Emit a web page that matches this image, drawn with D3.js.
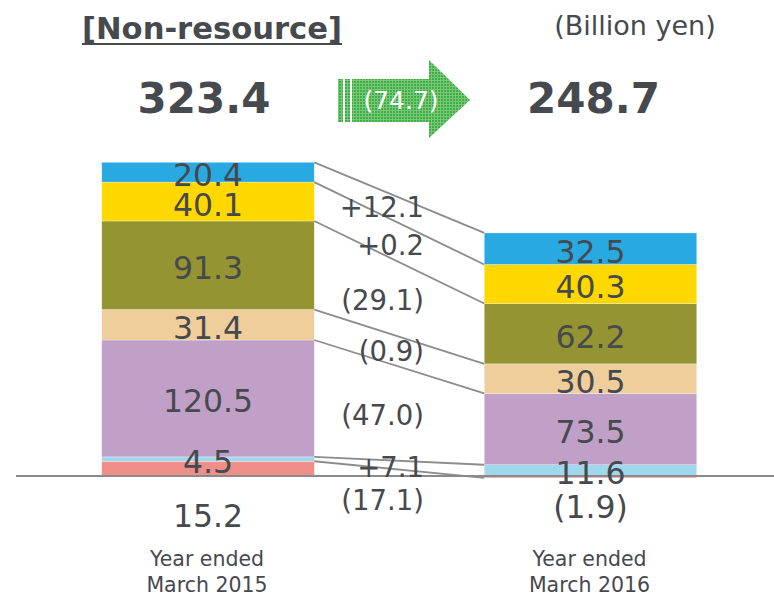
<!DOCTYPE html>
<html>
<head>
<meta charset="utf-8">
<script src="https://cdn.jsdelivr.net/npm/d3@7"></script>
<style>
  html, body { margin: 0; padding: 0; background: #fff; }
  svg { display: block; font-family: "DejaVu Sans", Verdana, sans-serif; }
</style>
</head>
<body>
<svg id="chart" width="774" height="598"></svg>
<script>
// ---------------- data ----------------
const title = "[Non-resource]";
const unitLabel = "(Billion yen)";
const categories = ["Year ended March 2015", "Year ended March 2016"];
// segment keys, listed from top of the bar to bottom
const segmentKeys = ["seg1", "seg2", "seg3", "seg4", "seg5", "seg6", "seg7"];
const segmentColors = ["#29A9E1", "#FFD800", "#959433", "#EFCE9B", "#C0A0C7", "#9DD8ED", "#F08E8A"];
const values2015 = [20.4, 40.1, 91.3, 31.4, 120.5, 4.5, 15.2];
const values2016 = [32.5, 40.3, 62.2, 30.5, 73.5, 11.6, -1.9];

// ---------------- helpers ----------------
const fmt = v => v < 0 ? "(" + d3.format(".1f")(-v) + ")" : d3.format(".1f")(v);
const fmtDelta = v => v < 0 ? "(" + d3.format(".1f")(-v) + ")" : "+" + d3.format(".1f")(v);
const textColor = "#46494E";

const rows = categories.map((c, i) => {
  const vals = i === 0 ? values2015 : values2016;
  const r = { category: c };
  segmentKeys.forEach((k, j) => r[k] = vals[j]);
  return r;
});
const totals = [d3.sum(values2015), d3.sum(values2016)];

const svg = d3.select("#chart");

// scales
const y = d3.scaleLinear().domain([0, 100]).range([476, 379]);
const x = d3.scalePoint().domain(categories).range([208, 590.5]);
const barW = 212.5;

// stack (bottom to top order => reversed keys)
const stackKeys = segmentKeys.slice().reverse();
const series = d3.stack().keys(stackKeys).offset(d3.stackOffsetDiverging)(rows);
const colorOf = d3.scaleOrdinal().domain(segmentKeys).range(segmentColors);

// ---------------- connector lines ----------------
const x1r = x(categories[0]) + barW / 2;
const x2l = x(categories[1]) - barW / 2;
const edgeOf = (s, i) => { const d = s[i]; const v = d.data[s.key]; return v < 0 ? d[0] : d[1]; };
const connectors = series.map(s => ({ key: s.key, a: edgeOf(s, 0), b: edgeOf(s, 1) }));

// ---------------- bars ----------------
const gBars = svg.append("g");
series.forEach(s => {
  gBars.selectAll(null).data(s).enter().append("rect")
    .attr("x", d => x(d.data.category) - barW / 2)
    .attr("width", barW)
    .attr("y", d => y(Math.max(d[0], d[1])))
    .attr("height", d => Math.abs(y(d[0]) - y(d[1])))
    .attr("fill", colorOf(s.key))
    .attr("stroke", "#ffffff")
    .attr("stroke-opacity", 0.5)
    .attr("stroke-width", 0.6);
});

svg.append("g").selectAll("line").data(connectors).enter().append("line")
  .attr("x1", x1r).attr("x2", x2l)
  .attr("y1", d => y(d.a)).attr("y2", d => y(d.b))
  .attr("stroke", "#8C8C8C").attr("stroke-width", 1.8);

// baseline
svg.append("line").attr("x1", 16).attr("x2", 774).attr("y1", y(0)).attr("y2", y(0))
  .attr("stroke", "#8A8A8A").attr("stroke-width", 2);

// ---------------- segment labels ----------------
const segFs = 31.5;
const belowOffset = [40, 29];
const gLab = svg.append("g").attr("fill", textColor).attr("font-size", segFs).attr("text-anchor", "middle");
series.forEach(s => {
  s.forEach((d, i) => {
    const v = d.data[s.key];
    let cy;
    if (s.key === segmentKeys[segmentKeys.length - 1]) {
      cy = y(Math.min(d[0], d[1])) + belowOffset[i];
    } else {
      cy = (y(d[0]) + y(d[1])) / 2 + 2.5;
    }
    gLab.append("text")
      .attr("x", x(d.data.category))
      .attr("y", cy + 0.365 * segFs)
      .text(fmt(v));
  });
});

// ---------------- delta labels ----------------
const deltaFs = 27.5;
const xm = 381, tpos = (xm - x1r) / (x2l - x1r);
const lineY = c => y(c.a) + (y(c.b) - y(c.a)) * tpos;
const deltaNudge = [5, 11, 8, 5, 4, 3];
const gDelta = svg.append("g").attr("fill", textColor).attr("font-size", deltaFs).attr("text-anchor", "end");
segmentKeys.forEach((k, j) => {
  const dv = values2016[j] - values2015[j];
  const top = connectors.find(c => c.key === k);
  let cy;
  if (j < segmentKeys.length - 1) {
    const below = connectors.find(c => c.key === segmentKeys[j + 1]);
    cy = (lineY(top) + lineY(below)) / 2 + deltaNudge[j];
  } else {
    cy = y(0) + 24;
  }
  gDelta.append("text").attr("x", 424).attr("y", cy + 0.365 * deltaFs).text(fmtDelta(dv));
});

// ---------------- category labels ----------------
const gCat = svg.append("g").attr("fill", textColor).attr("font-size", 20.5).attr("text-anchor", "middle");
categories.forEach(c => {
  const parts = c.match(/^(Year ended) (.*)$/);
  gCat.append("text").attr("x", x(c) - 1).attr("y", 566).text(parts[1]);
  gCat.append("text").attr("x", x(c) - 1).attr("y", 592).text(parts[2]);
});

// ---------------- header ----------------
svg.append("text").attr("x", 82).attr("y", 39).attr("font-size", 30).attr("font-weight", "bold")
  .attr("fill", textColor).attr("textLength", 260).attr("lengthAdjust", "spacingAndGlyphs").text(title);
svg.append("line").attr("x1", 82).attr("x2", 342).attr("y1", 44).attr("y2", 44)
  .attr("stroke", textColor).attr("stroke-width", 2);
svg.append("text").attr("x", 635).attr("y", 35).attr("font-size", 27).attr("fill", textColor)
  .attr("text-anchor", "middle").text(unitLabel);

svg.append("g").attr("fill", textColor).attr("font-size", 42).attr("font-weight", "bold").attr("text-anchor", "middle")
  .selectAll("text").data(totals).enter().append("text")
  .attr("x", (d, i) => i === 0 ? 204 : 593.5).attr("y", 113).text(d => d3.format(".1f")(d));

// arrow with checkered green pattern
const defs = svg.append("defs");
const pat = defs.append("pattern").attr("id", "chk").attr("patternUnits", "userSpaceOnUse")
  .attr("width", 3).attr("height", 3);
pat.append("rect").attr("width", 3).attr("height", 3).attr("fill", "#78C878");
pat.append("rect").attr("width", 2).attr("height", 2).attr("fill", "#3FAE46");
const gA = svg.append("g").attr("fill", "url(#chk)");
gA.append("rect").attr("x", 338).attr("y", 79).attr("width", 5).attr("height", 43);
gA.append("rect").attr("x", 345).attr("y", 79).attr("width", 5).attr("height", 43);
gA.append("path").attr("d", "M352,79 L429,79 L429,60 L470,100 L429,138 L429,122 L352,122 Z");
svg.append("text").attr("x", 401).attr("y", 109).attr("font-size", 25).attr("fill", "#ffffff")
  .attr("text-anchor", "middle").text(fmt(totals[1] - totals[0]));
</script>
</body>
</html>
